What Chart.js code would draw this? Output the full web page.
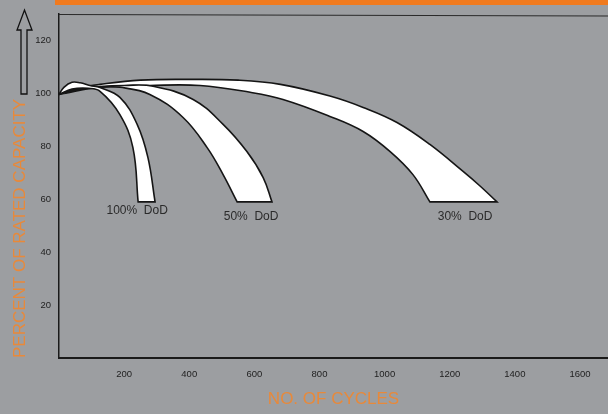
<!DOCTYPE html>
<html>
<head>
<meta charset="utf-8">
<script src="https://cdn.jsdelivr.net/npm/chart.js@4.4.1/dist/chart.umd.min.js"></script>
<style>
  html, body { margin: 0; padding: 0; background: #9c9ea1; }
  canvas { display: block; }
</style>
</head>
<body>
<canvas id="cycleChart" width="608" height="414"></canvas>
<script>
// Capacity (% of rated) against number of cycles
const xTicks = [200, 400, 600, 800, 1000, 1200, 1400, 1600];
const yTicks = [20, 40, 60, 80, 100, 120];

// every band has an outer (upper) edge and an inner (lower) edge, [cycles, %]
const dod100Outer = [[0, 99.6], [15, 102.3], [40, 104.2], [65, 104], [95, 103], [126, 102.2], [187, 98.5], [240, 88.3], [273, 75.8], [295, 59]];
const dod100Inner = [[0, 99.6], [40, 101.6], [90, 101.9], [126, 100.8], [187, 92], [227, 79.5], [243, 59]];

const dod50Outer = [[0, 99.6], [60, 101.6], [126, 102.6], [200, 103], [289, 102.7], [412, 97.7], [504, 88.3], [577, 78], [627, 68.2], [654, 59]];
const dod50Inner = [[0, 99.6], [60, 101.4], [126, 102.4], [187, 102.3], [279, 99.6], [381, 90.9], [455, 79.5], [504, 69.3], [547, 59]];

const dod30Outer = [[0, 99.6], [60, 102], [126, 103.4], [250, 105], [400, 105.3], [550, 105], [680, 103.4], [832, 99], [934, 94.7], [1038, 89], [1139, 80.7], [1241, 70.5], [1293, 65], [1345, 59]];
const dod30Inner = [[0, 99.6], [126, 102.3], [279, 103], [433, 103], [587, 100.4], [688, 97.7], [832, 91.3], [934, 85.6], [1017, 78], [1087, 69.3], [1139, 59]];

const bandNames = ['100%  DoD', '50%  DoD', '30%  DoD'];
const bandLabelX = [240, 590, 1247];
const bandLabelY = [55.6, 53.3, 53.3];

const orange = '#e8893a';
const fontFamily = '"Liberation Sans", Arial, sans-serif';

// outer edge down, across the flat bottom, inner edge back up to the start
function bandShape(outer, inner) {
  const pts = outer.slice();
  pts.push(outer[outer.length - 1]); // repeat the corners so the bottom stays straight
  const back = inner.slice().reverse();
  pts.push(back[0]);
  return pts.concat(back).map(p => ({ x: p[0], y: p[1] }));
}

function band(name, outer, inner) {
  return {
    label: name,
    data: bandShape(outer, inner),
    fill: 'shape',
    backgroundColor: '#ffffff',
    borderColor: '#151515',
    borderWidth: 1.6,
    tension: 0.4,
    pointRadius: 0,
    pointHitRadius: 0,
    clip: 6
  };
}

// frame line, orange strip, up arrow and the DoD labels
const decor = {
  id: 'decor',
  beforeDraw(chart) {
    const ctx = chart.ctx;
    ctx.save();
    ctx.fillStyle = '#f07a1e';
    ctx.fillRect(55, 0, chart.width - 55, 5);
    ctx.restore();
  },
  afterDatasetsDraw(chart) {
    const ctx = chart.ctx;
    const area = chart.chartArea;
    const xs = chart.scales.x;
    const ys = chart.scales.y;
    ctx.save();
    ctx.strokeStyle = '#2a2a2a';
    ctx.lineWidth = 1.2;
    ctx.beginPath();
    ctx.moveTo(area.left, area.top + 0.5);
    ctx.lineTo(area.right, area.top + 2);
    ctx.stroke();

    // hollow arrow beside the y axis
    ctx.strokeStyle = '#111';
    ctx.lineWidth = 1.3;
    ctx.beginPath();
    ctx.moveTo(21, 94);
    ctx.lineTo(21, 30);
    ctx.lineTo(17, 30);
    ctx.lineTo(24.5, 10);
    ctx.lineTo(32, 30);
    ctx.lineTo(27, 30);
    ctx.lineTo(27, 94);
    ctx.closePath();
    ctx.stroke();

    ctx.fillStyle = '#2b2b2b';
    ctx.font = '12px ' + fontFamily;
    ctx.textAlign = 'center';
    ctx.textBaseline = 'middle';
    bandNames.forEach((name, i) => {
      ctx.fillText(name, xs.getPixelForValue(bandLabelX[i]), ys.getPixelForValue(bandLabelY[i]));
    });
    ctx.restore();
  }
};

const ctx = document.getElementById('cycleChart').getContext('2d');
const cycleChart = new Chart(ctx, {
  type: 'line',
  data: {
    datasets: [
      band('100% DoD', dod100Outer, dod100Inner),
      band('50% DoD', dod50Outer, dod50Inner),
      band('30% DoD', dod30Outer, dod30Inner)
    ]
  },
  options: {
    responsive: false,
    animation: false,
    layout: { padding: { top: 14, right: 0, bottom: 0, left: 0 } },
    plugins: {
      legend: { display: false },
      tooltip: { enabled: false }
    },
    scales: {
      x: {
        type: 'linear',
        min: 0,
        max: 1686,
        afterBuildTicks: function(scale) {
          scale.ticks = xTicks.map(v => ({ value: v }));
        },
        afterFit: function(scale) {
          scale.height = 56;
        },
        grid: { display: false, drawTicks: false },
        border: { display: true, color: '#1a1a1a', width: 2 },
        ticks: {
          padding: 11,
          color: '#222',
          maxRotation: 0,
          autoSkip: false,
          font: { family: fontFamily, size: 9.5 },
          callback: function(value) {
            return String(value);
          }
        },
        title: {
          display: true,
          text: 'NO. OF CYCLES',
          color: orange,
          font: { family: fontFamily, size: 17 },
          padding: { top: 0, bottom: 4 }
        }
      },
      y: {
        type: 'linear',
        min: 0,
        max: 130,
        afterBuildTicks: function(scale) {
          scale.ticks = yTicks.map(v => ({ value: v }));
        },
        afterFit: function(scale) {
          scale.width = 59;
        },
        grid: { display: false, drawTicks: false },
        border: { display: true, color: '#1a1a1a', width: 1.5 },
        ticks: {
          padding: 8,
          color: '#222',
          font: { family: fontFamily, size: 9.5 },
          callback: function(value) {
            return String(value);
          }
        },
        title: {
          display: true,
          text: 'PERCENT OF RATED CAPACITY',
          color: orange,
          align: 'start',
          font: { family: fontFamily, size: 17 },
          padding: { top: 10, bottom: 0 }
        }
      }
    }
  },
  plugins: [decor]
});
</script>
</body>
</html>
